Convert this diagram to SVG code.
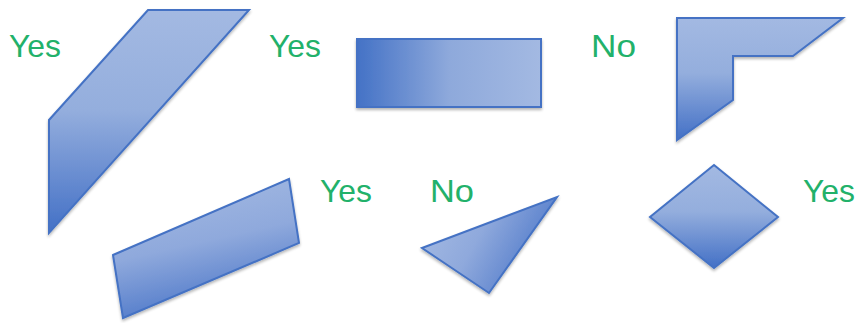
<svg xmlns="http://www.w3.org/2000/svg" width="855" height="323" viewBox="0 0 855 323">
<defs>
<linearGradient id="gv" x1="0" y1="0" x2="0" y2="1"><stop offset="0" stop-color="#a3b9e2"/><stop offset="0.45" stop-color="#94aedd"/><stop offset="1" stop-color="#4370c6"/></linearGradient>
<linearGradient id="gh" x1="0" y1="0" x2="1" y2="0"><stop offset="0" stop-color="#4472c6"/><stop offset="0.5" stop-color="#8ea9db"/><stop offset="1" stop-color="#a3b9e2"/></linearGradient>
<linearGradient id="gq" x1="0.35" y1="0" x2="0.65" y2="1"><stop offset="0" stop-color="#a3b9e2"/><stop offset="0.45" stop-color="#8fa9dc"/><stop offset="1" stop-color="#4370c6"/></linearGradient>
<linearGradient id="gt" x1="0" y1="0.3" x2="1" y2="0.7"><stop offset="0" stop-color="#a3b9e2"/><stop offset="0.4" stop-color="#8fa9dc"/><stop offset="1" stop-color="#4370c6"/></linearGradient>
<filter id="sh" x="-10%" y="-10%" width="130%" height="130%"><feGaussianBlur in="SourceAlpha" stdDeviation="1.5"/><feOffset dx="0" dy="2"/><feComponentTransfer><feFuncA type="linear" slope="0.3"/></feComponentTransfer><feMerge><feMergeNode/><feMergeNode in="SourceGraphic"/></feMerge></filter>
</defs>
<style>
.s{stroke:#4472c4;stroke-width:2;stroke-linejoin:miter;filter:url(#sh)}
.t{font-family:"Liberation Sans",Arial,sans-serif;font-size:32px;fill:#22b16a}
</style>
<rect width="855" height="323" fill="#ffffff"/>
<g id="shape-parallelogram"><polygon class="s" fill="url(#gv)" points="148,10 249,10 49,233 49,120"/></g>
<g id="shape-rectangle"><rect class="s" fill="url(#gh)" x="357" y="39" width="184" height="68"/></g>
<g id="shape-l"><polygon class="s" fill="url(#gv)" points="677,18 843,18 793,56 733,56 733,100 677,140"/></g>
<g id="shape-quad"><polygon class="s" fill="url(#gq)" points="113,255 289,179 299,243 123,318"/></g>
<g id="shape-triangle"><polygon class="s" fill="url(#gt)" points="422,248 557,197 489,293"/></g>
<g id="shape-diamond"><polygon class="s" fill="url(#gv)" points="714,165 778,217 714,268 650,217"/></g>
<g id="labels">
<text class="t" x="9" y="57" textLength="52" lengthAdjust="spacingAndGlyphs">Yes</text>
<text class="t" x="269" y="57" textLength="52" lengthAdjust="spacingAndGlyphs">Yes</text>
<text class="t" x="591" y="57" textLength="45" lengthAdjust="spacingAndGlyphs">No</text>
<text class="t" x="320" y="202" textLength="52" lengthAdjust="spacingAndGlyphs">Yes</text>
<text class="t" x="430" y="202" textLength="44" lengthAdjust="spacingAndGlyphs">No</text>
<text class="t" x="803" y="202" textLength="52" lengthAdjust="spacingAndGlyphs">Yes</text>
</g>
</svg>
